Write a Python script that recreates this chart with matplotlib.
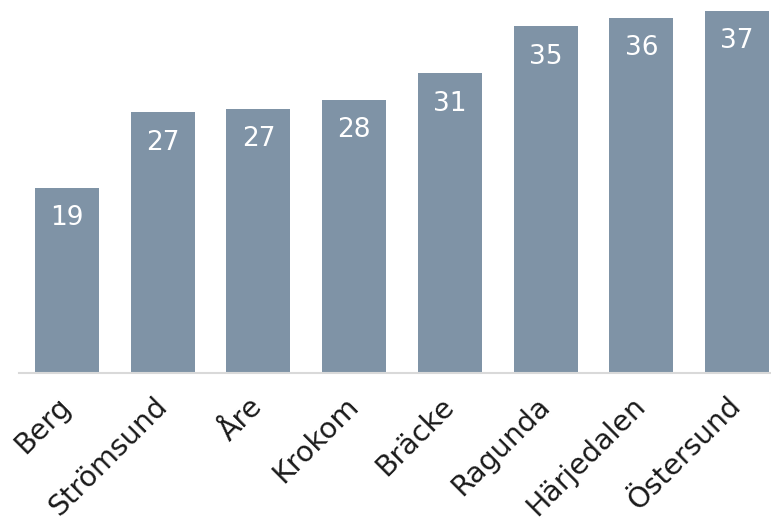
import matplotlib
matplotlib.use("Agg")
import matplotlib.pyplot as plt

# kommuner och värden
kommuner = ["Berg", "Strömsund", "Åre", "Krokom", "Bräcke", "Ragunda", "Härjedalen", "Östersund"]
varden = [18.9, 26.6, 27.0, 27.9, 30.6, 35.4, 36.3, 37.0]

plt.rcParams['font.family'] = ['DejaVu Sans']

fig = plt.figure(figsize=(7.71, 5.27), dpi=100)
ax = fig.add_axes([19 / 771, 154.3 / 527, 766 / 771, 372.7 / 527])

x = range(len(kommuner))
bars = ax.bar(x, varden, width=0.67, color="#7f93a6", zorder=2)

for rect, v in zip(bars, varden):
    ax.text(rect.get_x() + rect.get_width() / 2, v - 3.1, f"{v:.0f}",
            ha="center", va="center", color="white", fontsize=19)

ax.set_xlim(-0.5, 7.5)
ax.set_ylim(0, 38.1)
ax.set_xticks(list(x))
ax.set_xticklabels(kommuner, rotation=45, ha="right", va="center",
                   rotation_mode="anchor", fontsize=20.5, color="#1a1a1a")
ax.tick_params(axis="x", length=0, pad=21)
ax.set_yticks([])
for s in ["top", "right", "left"]:
    ax.spines[s].set_visible(False)
ax.spines["bottom"].set_color("#d9d9d9")
ax.spines["bottom"].set_linewidth(1.5)

fig.savefig("out.png", dpi=100)
